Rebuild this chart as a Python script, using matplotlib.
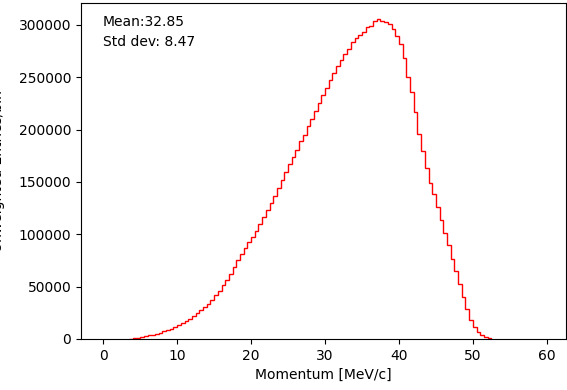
import matplotlib
matplotlib.use("Agg")
import matplotlib.pyplot as plt
import numpy as np

# histogram bins: 0.5 MeV/c wide, only the filled range 3.5 - 52.5
bin_edges = np.arange(3.5, 53.0, 0.5)

# entries per bin (thousands)
entries_k = [
    0.4, 0.9, 1.3, 1.9, 2.6, 3.4, 4.2, 5.2, 6.1, 7.3,
    8.4, 9.9, 11.2, 13.1, 14.8, 17.0, 19.2, 21.8, 24.6, 27.5,
    30.6, 33.9, 37.6, 41.6, 46.0, 51.2, 56.4, 62.5, 68.7, 75.1,
    81.2, 87.0, 92.3, 97.9, 103.5, 109.6, 116.2, 122.8, 129.7, 136.6,
    143.9, 151.5, 159.8, 167.0, 174.3, 181.0, 188.9, 195.2, 203.6, 210.4,
    218.1, 225.0, 232.7, 240.2, 247.9, 254.1, 260.8, 266.3, 272.7, 277.5,
    283.4, 287.9, 290.6, 293.1, 297.8, 299.4, 303.9, 305.6, 304.2, 302.5,
    301.0, 296.4, 289.7, 282.3, 268.9, 250.6, 236.0, 216.8, 196.2, 179.4,
    163.5, 148.7, 138.1, 126.4, 114.0, 101.2, 89.5, 76.8, 64.9, 52.7,
    39.8, 28.9, 18.6, 11.4, 6.5, 3.6, 1.8, 0.7,
]
entries = np.array(entries_k) * 1000

mean_text = "Mean:32.85"
std_text = "Std dev: 8.47"

fig = plt.figure(figsize=(5.67, 3.9), dpi=100)
ax = fig.add_axes([0.1429, 0.1308, 0.8554, 0.8615])

centers = (bin_edges[:-1] + bin_edges[1:]) / 2
ax.hist(centers, bins=bin_edges, weights=entries, histtype='step', color='red', linewidth=1)

ax.set_xlim(-3, 62.6)
ax.set_ylim(0, 321000)
ax.set_xlabel('Momentum [MeV/c]')
ax.set_ylabel('Unweighted Entries/bin')
ax.yaxis.set_label_coords(-0.157, 0.5)

ax.text(0.0454, 0.9315, mean_text, transform=ax.transAxes, va='baseline')
ax.text(0.0454, 0.872, std_text, transform=ax.transAxes, va='baseline')

fig.savefig('out.png', dpi=100)
